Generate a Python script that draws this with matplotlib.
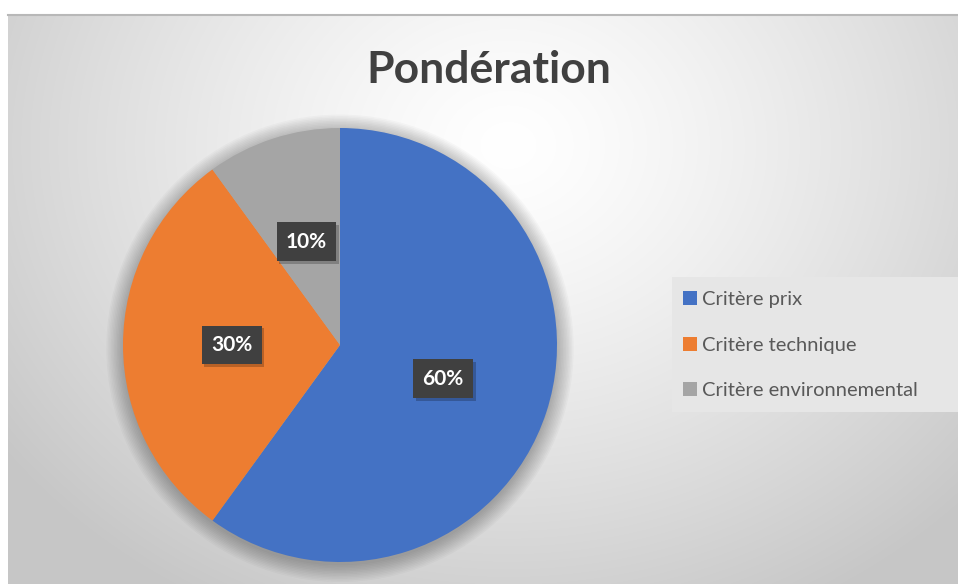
import numpy as np
import matplotlib.pyplot as plt
from matplotlib.patches import Patch, Rectangle, Circle
import matplotlib.patheffects as pe

# données du graphique
categories = ['Critère prix', 'Critère technique', 'Critère environnemental']
valeurs = [60, 30, 10]
couleurs = ['#4472C4', '#ED7D31', '#A5A5A5']
titre = 'Pondération'

W, H = 958, 584
fig = plt.figure(figsize=(W / 100, H / 100), dpi=100)
fig.patch.set_facecolor('white')

# fond dégradé (style Excel)
bg = fig.add_axes([8 / W, 0, (W - 8) / W, (H - 15) / H])
yy, xx = np.mgrid[0:H - 15, 0:W - 8]
d = np.hypot((xx - 500) / 620, (yy - 130) / 520)
g = 1.0 - 0.22 * np.clip(d, 0, 1) ** 1.3
bg.imshow(np.dstack([g, g, g]), aspect='auto', extent=[0, 1, 0, 1])
bg.set_xlim(0, 1)
bg.set_ylim(0, 1)
bg.axis('off')
fig.add_artist(plt.Line2D([8 / W, 1], [(H - 15) / H] * 2, color='#b8b8b8', lw=1.5))

# camembert
R = 217
cx, cy = 340, 345
ax = fig.add_axes([(cx - R) / W, (H - cy - R) / H, 2 * R / W, 2 * R / H])
# ombre douce
for k in range(12):
    ax.add_patch(Circle((0.0, -0.015), 1.0 + 0.007 * k, fc='black', ec='none',
                        alpha=0.022, clip_on=False, zorder=0))
wedges, texts, autotexts = ax.pie(
    valeurs, colors=couleurs, startangle=90, counterclock=False,
    autopct='%1.0f%%', pctdistance=0.5, radius=1,
    textprops=dict(color='white', fontsize=15, fontweight='bold', family='Lato'))
for w in wedges:
    w.set_zorder(2)
for t in autotexts:
    t.set_zorder(3)
    t.set_bbox(dict(boxstyle='square,pad=0.45', fc='#404040', ec='none'))
    t.get_bbox_patch().set_path_effects(
        [pe.withSimplePatchShadow(offset=(2, -2), shadow_rgbFace='black', alpha=0.22)])
ax.set_xlim(-1, 1)
ax.set_ylim(-1, 1)
ax.set_aspect('equal')

fig.text(489 / W, 1 - 83 / H, titre, ha='center', va='baseline', fontsize=32,
         fontweight='bold', color='#404040', family='Lato')

# légende
fig.add_artist(Rectangle((672 / W, 1 - 412 / H), (W - 672) / W, 135 / H,
                         transform=fig.transFigure, fc='#e6e6e6', ec='none'))
handles = [Patch(facecolor=c, edgecolor='none') for c in couleurs]
leg = fig.legend(handles, categories, loc='upper left',
                 bbox_to_anchor=(683 / W, 1 - 291 / H), frameon=False,
                 prop=dict(family='Lato', size=14.5),
                 handlelength=0.7, handleheight=0.7, handletextpad=0.25,
                 labelspacing=1.42, borderpad=0, borderaxespad=0)
for t in leg.get_texts():
    t.set_color('#595959')

fig.savefig('out.png', dpi=100)
